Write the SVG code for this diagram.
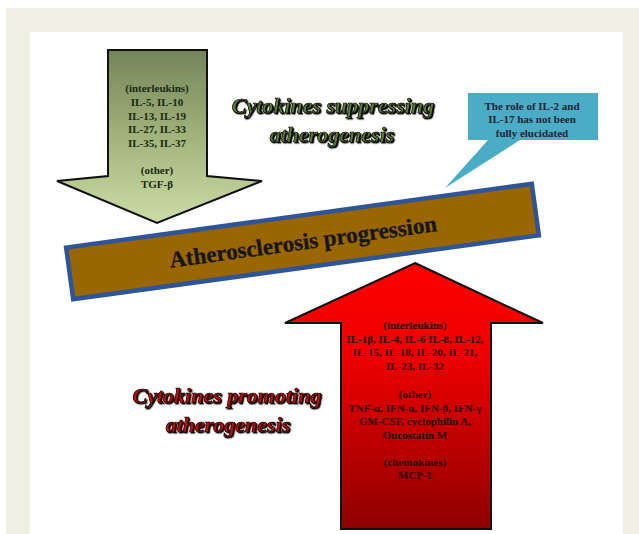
<svg xmlns="http://www.w3.org/2000/svg" width="639" height="534" viewBox="0 0 639 534">
<defs>
<linearGradient id="gGreen" x1="0" y1="0" x2="0" y2="1">
<stop offset="0" stop-color="#74845A"/>
<stop offset="0.55" stop-color="#A6B77F"/>
<stop offset="1" stop-color="#CCDCA6"/>
</linearGradient>
<linearGradient id="gRed" x1="0" y1="0" x2="0" y2="1">
<stop offset="0" stop-color="#FF0000"/>
<stop offset="0.35" stop-color="#EE0000"/>
<stop offset="1" stop-color="#8E0000"/>
</linearGradient>
<filter id="shadow" x="-10%" y="-30%" width="120%" height="160%">
<feDropShadow dx="1.3" dy="1.3" stdDeviation="0.5" flood-color="#000" flood-opacity="1"/>
</filter>
</defs>
<style>
.arrow{stroke:#111;stroke-width:2;stroke-linejoin:miter}
.lbl{font-family:"Liberation Serif","Times New Roman",serif;font-weight:bold;font-size:11px;text-anchor:middle}
.title{font-family:"Liberation Serif","Times New Roman",serif;font-weight:bold;font-style:italic;font-size:22px;text-anchor:middle;stroke:#000;stroke-width:0.7;filter:url(#shadow)}
</style>
<rect x="6" y="8" width="633" height="526" fill="#EFEFE3"/>
<rect x="30" y="32" width="593" height="502" fill="#FFFFFF"/>

<g id="suppressing-arrow">
<polygon class="arrow" fill="url(#gGreen)" points="108,50 207,50 207,176 262,181 157,223 57,181 108,176"/>
<g class="lbl" fill="#1B2A12">
<text x="157" y="92">(interleukins)</text>
<text x="157" y="106">IL-5, IL-10</text>
<text x="157" y="120">IL-13, IL-19</text>
<text x="157" y="133">IL-27, IL-33</text>
<text x="157" y="147">IL-35, IL-37</text>
<text x="157" y="174">(other)</text>
<text x="157" y="188">TGF-β</text>
</g>
</g>

<g id="suppressing-title">
<text class="title" fill="#5B7A2E" x="333" y="113">Cytokines suppressing</text>
<text class="title" fill="#5B7A2E" x="332" y="142">atherogenesis</text>
</g>

<g id="progression-bar" transform="rotate(-7.8 302.5 241.5)">
<rect x="67.5" y="215.5" width="470" height="52" fill="#996600" stroke="#2E5597" stroke-width="4.5"/>
<text x="303" y="249.5" font-family="Liberation Serif,Times New Roman,serif" font-weight="bold" font-size="23" text-anchor="middle" fill="#161616" stroke="#161616" stroke-width="0.3">Atherosclerosis progression</text>
</g>

<g id="callout">
<path d="M468,93 H598 V140 H520 L445,188 L488,140 H468 Z" fill="#4BACC6"/>
<g class="lbl" fill="#1F2433">
<text x="532" y="110">The role of IL-2 and</text>
<text x="532" y="123">IL-17 has not been</text>
<text x="532" y="137">fully elucidated</text>
</g>
</g>

<g id="promoting-arrow">
<polygon class="arrow" fill="url(#gRed)" points="415,263 543,323 491,323 491,529 341,529 341,323 285,323"/>
<g class="lbl" fill="#2A0000">
<text x="415" y="329">(interleukins)</text>
<text x="415" y="343">IL-1β, IL-4, IL-6 IL-8, IL-12,</text>
<text x="415" y="356">IL-15, IL-18, IL-20, IL-21,</text>
<text x="415" y="370">IL-23, IL-32</text>
<text x="415" y="398">(other)</text>
<text x="415" y="412">TNF-α, IFN-α, IFN-β, IFN-γ</text>
<text x="415" y="425">GM-CSF, cyclophilin A,</text>
<text x="415" y="439">Oncostatin M</text>
<text x="415" y="466">(chemokines)</text>
<text x="415" y="479">MCP-1</text>
</g>
</g>

<g id="promoting-title">
<text class="title" fill="#D00000" x="227" y="403">Cytokines promoting</text>
<text class="title" fill="#D00000" x="228" y="432">atherogenesis</text>
</g>

<g id="connectors"></g>
</svg>
